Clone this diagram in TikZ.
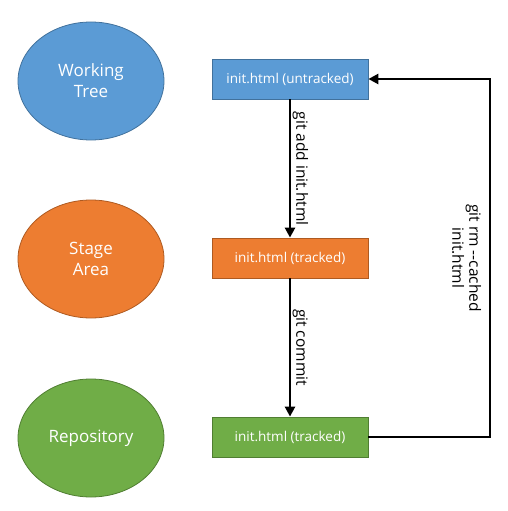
\documentclass[tikz,border=0pt]{standalone}
\usepackage{fontspec}
\setmainfont{Open Sans}
\usetikzlibrary{arrows.meta,shapes.geometric}
\definecolor{wtblue}{HTML}{5B9BD5}
\definecolor{wtblueline}{HTML}{41719C}
\definecolor{saorange}{HTML}{ED7D31}
\definecolor{saorangeline}{HTML}{AE5A21}
\definecolor{rpgreen}{HTML}{70AD47}
\definecolor{rpgreenline}{HTML}{507E32}
\tikzset{
    area/.style={ellipse, draw, line width=0.8pt, minimum width=146pt, minimum height=118pt,
        text=white, align=center, font=\fontsize{17}{21}\selectfont},
    filebox/.style={rectangle, draw, line width=0.8pt, minimum width=156pt, minimum height=40pt,
        text=white, font=\fontsize{13.5}{16}\selectfont},
    move/.style={line width=2.8pt, -{Triangle[length=10pt,width=10pt]}},
    cmd/.style={rotate=-90, align=center, font=\fontsize{15.5}{17}\selectfont},
}
\begin{document}
\begin{tikzpicture}[x=1pt,y=-1pt]
        \useasboundingbox (0,0) rectangle (508,511);
        %% areas
        \node[area, fill=wtblue, draw=wtblueline] (wt) at (91,81) {Working\\Tree};
        \node[area, fill=saorange, draw=saorangeline] (sa) at (91,259) {Stage\\Area};
        \node[area, fill=rpgreen, draw=rpgreenline] (rp) at (91,438) {Repository};
        %% files
        \node[filebox, fill=wtblue, draw=wtblueline] (untracked) at (290,79) {init.html (untracked)};
        \node[filebox, fill=saorange, draw=saorangeline] (staged) at (290,258) {init.html (tracked)};
        \node[filebox, fill=rpgreen, draw=rpgreenline] (committed) at (290,437) {init.html (tracked)};
        %% commands
        \draw[move] (untracked) -- (staged) node[cmd, pos=0.5, anchor=south, yshift=-2pt] {git add init.html};
        \draw[move] (staged) -- (committed) node[cmd, pos=0.5, anchor=south, yshift=-2pt] {git commit};
        \coordinate (turn) at (490,0);
        \draw[move] (committed.east) -- (committed.east -| turn) -- (untracked.east -| turn)
            node[cmd, pos=0.5, anchor=north, yshift=-4pt] {git rm -{}-cached\\init.html} -- (untracked.east);
    \end{tikzpicture}
\end{document}
